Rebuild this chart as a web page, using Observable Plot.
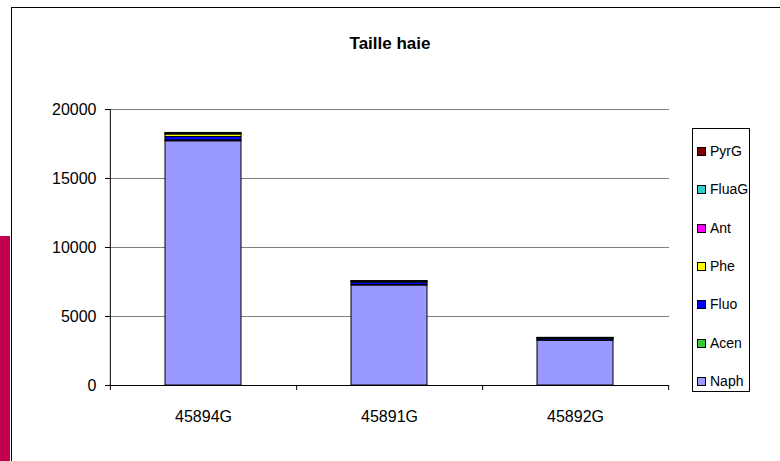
<!DOCTYPE html>
<html>
<head>
<meta charset="utf-8">
<script src="https://cdn.jsdelivr.net/npm/d3@7"></script>
<script src="https://cdn.jsdelivr.net/npm/@observablehq/plot@0.6"></script>
<style>
  body { margin: 0; background: #fff; }
  #wrap { position: relative; width: 780px; height: 461px; overflow: hidden;
          font-family: "Liberation Sans", Arial, sans-serif; color: #000; }
  #wrap svg { position: absolute; left: 0; top: 0; }
  .frame { position: absolute; left: 11px; top: 7px; width: 800px; height: 500px;
           border-left: 1px solid #000; border-top: 1px solid #000; }
  .band { position: absolute; left: 0; top: 236px; width: 10px; height: 225px; background: #c3004d; }
  .title { position: absolute; left: 0; width: 780px; top: 34px; text-align: center;
           font-weight: bold; font-size: 17px; }
  .legend { position: absolute; left: 692px; top: 128px; width: 58px; height: 264px;
            border: 1px solid #000; box-sizing: border-box; background: #fff; }
  .legend .item { position: absolute; left: 4px; height: 18px; line-height: 18px;
                  font-size: 14px; white-space: nowrap; }
  .legend .sw { display: inline-block; width: 7px; height: 7px; border: 1px solid #000;
                margin-right: 4px; vertical-align: 0px; }
</style>
</head>
<body>
<div id="wrap">
  <div class="band"></div>
  <div class="frame"></div>
  <div class="title">Taille haie</div>
</div>
<script>
// Samples along the x axis and PAH compounds stacked in each bar (bottom to top)
const samples = ["45894G", "45891G", "45892G"];
const compounds = ["Naph", "Acen", "Fluo", "Phe", "Ant", "FluaG", "PyrG"];
const colors = ["#9999FF", "#33CC33", "#0000FF", "#FFFF00", "#FF00FF", "#33CCCC", "#800000"];

// Concentrations per compound, one value per sample
const naph  = [17700, 7250, 3250];
const acen  = [60, 30, 20];
const fluo  = [250, 180, 120];
const phe   = [180, 40, 20];
const ant   = [30, 10, 5];
const fluaG = [40, 30, 20];
const pyrG  = [40, 30, 20];

const yTicks = [0, 5000, 10000, 15000, 20000];

const series = [naph, acen, fluo, phe, ant, fluaG, pyrG];
const rows = [];
samples.forEach((s, i) => {
  compounds.forEach((c, k) => rows.push({sample: s, compound: c, value: series[k][i]}));
});

const W = 780, H = 461;
const mL = 110, mR = 111, mT = 109, mB = 76;
const halfStep = (W - mL - mR) / samples.length / 2;

const chart = Plot.plot({
  width: W, height: H,
  marginLeft: mL, marginRight: mR, marginTop: mT, marginBottom: mB,
  style: {fontFamily: "'Liberation Sans', Arial, sans-serif", fontSize: "16px", background: "transparent", color: "#000"},
  x: {domain: samples, paddingInner: 0.59, paddingOuter: 0.295, axis: null, label: null},
  y: {domain: [0, 20000], axis: null, label: null},
  color: {domain: compounds, range: colors},
  marks: [
    // horizontal gridlines
    Plot.ruleY(yTicks.slice(1), {stroke: "#808080", strokeWidth: 1}),
    // stacked bars
    Plot.barY(rows, {x: "sample", y: "value", fill: "compound", stroke: "#000", strokeWidth: 1, order: compounds}),
    // category axis line
    Plot.ruleY([0], {stroke: "#000"}),
    // value axis line, reaching the first category tick below zero
    Plot.ruleX([samples[0]], {x: d => d, y1: 20000, y2: 0, dx: -halfStep, insetBottom: -5, stroke: "#000"}),
    // category separator ticks
    Plot.ruleX(samples, {x: d => d, y1: 0, y2: 0, dx: halfStep, insetBottom: -5, stroke: "#000"}),
    Plot.axisY({ticks: yTicks, tickSize: 5, tickPadding: 9, tickFormat: d => String(d), fontSize: 16, label: null}),
    Plot.axisX({tickSize: 0, tickPadding: 25, fontSize: 16, label: null})
  ]
});

const wrap = document.getElementById("wrap");
wrap.insertBefore(chart, wrap.querySelector(".title"));

// legend box, top entry is the last stacked compound
const legend = document.createElement("div");
legend.className = "legend";
const order = compounds.map((c, k) => ({c, color: colors[k]})).reverse();
order.forEach((d, j) => {
  const it = document.createElement("div");
  it.className = "item";
  it.style.top = (13 + j * 38.3) + "px";
  const sw = document.createElement("span");
  sw.className = "sw";
  sw.style.background = d.color;
  it.appendChild(sw);
  it.appendChild(document.createTextNode(d.c));
  legend.appendChild(it);
});
wrap.appendChild(legend);
</script>
</body>
</html>
